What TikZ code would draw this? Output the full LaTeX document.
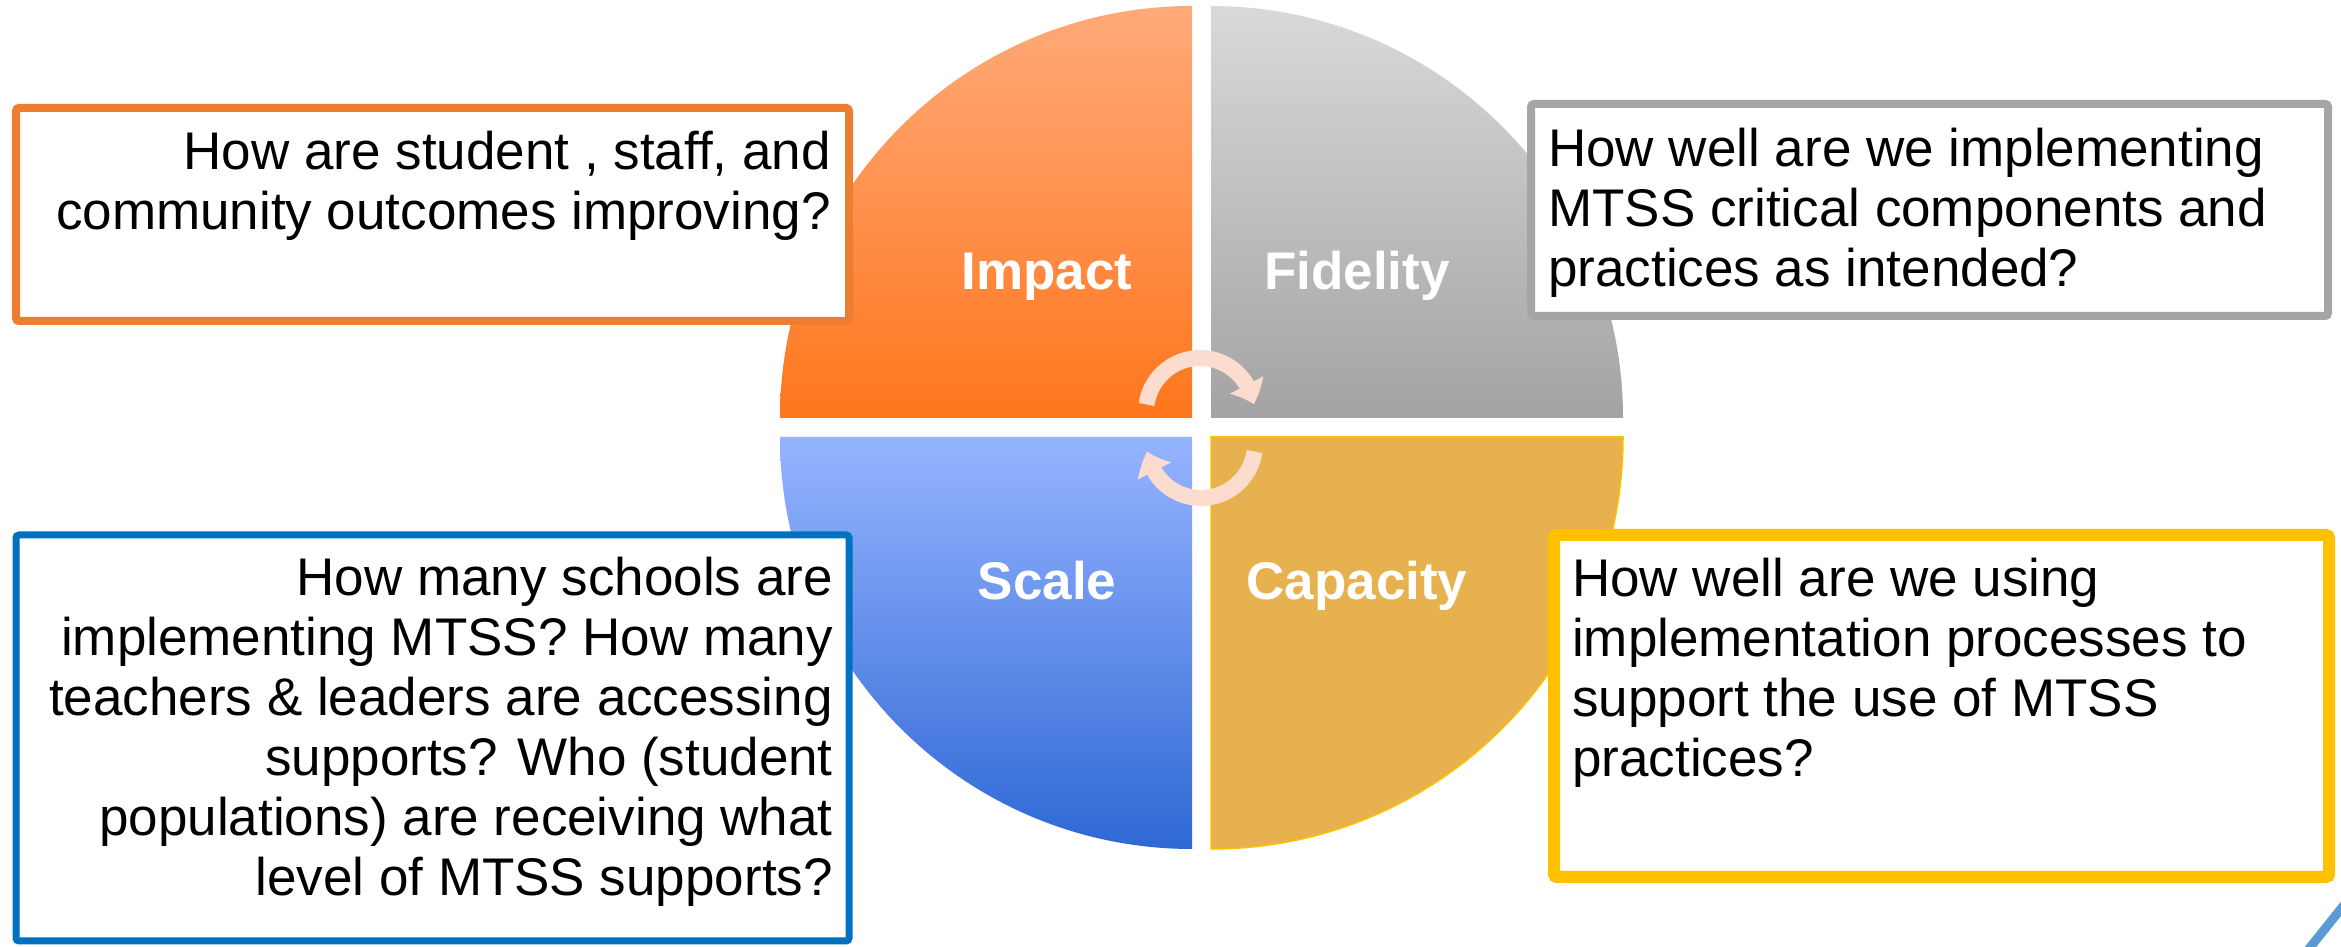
\documentclass[tikz,border=0pt]{standalone}
\usepackage{fontspec}
\setmainfont{Liberation Sans}
\usetikzlibrary{arrows.meta,bending}
\definecolor{boxorange}{HTML}{ED7D31}
\definecolor{boxgray}{HTML}{A5A5A5}
\definecolor{boxblue}{HTML}{0070C0}
\definecolor{boxyellow}{HTML}{FFC000}
\definecolor{impTop}{HTML}{FFAA7A}
\definecolor{impBot}{HTML}{FF761C}
\definecolor{fidTop}{HTML}{D9D9D9}
\definecolor{fidBot}{HTML}{A3A3A3}
\definecolor{scaTop}{HTML}{96B4FF}
\definecolor{scaBot}{HTML}{2E68D4}
\definecolor{capFill}{HTML}{E8B14F}
\definecolor{cyclecol}{HTML}{FCDCCE}
\definecolor{cornerblue}{HTML}{5B9BD5}
\begin{document}
\begin{tikzpicture}[x=1pt,y=1pt,
  qlabel/.style={text=white, font=\fontsize{53}{60}\selectfont\bfseries, inner sep=0pt, anchor=base},
  qbox/.style={fill=white, rounded corners=3pt, inner sep=0pt, outer sep=0pt},
  qtext/.style={font=\fontsize{53}{60}\selectfont, inner sep=0pt, text=black},
  cyclearrow/.style={draw=cyclecol, line width=16pt, -{Triangle[width=36pt,length=21pt,bend]}}
]
\useasboundingbox (0,0) rectangle (2341,947);
\fill[white] (0,0) rectangle (2341,947);

% quadrants
\shade[top color=impTop, bottom color=impBot] (1192,529) -- (1192,941) arc[start angle=90,end angle=180,radius=412] -- cycle;
\shade[top color=fidTop, bottom color=fidBot] (1211,529) -- (1623,529) arc[start angle=0,end angle=90,radius=412] -- cycle;
\shade[top color=scaTop, bottom color=scaBot] (1192,510) -- (780,510) arc[start angle=180,end angle=270,radius=412] -- cycle;
\filldraw[fill=capFill, draw=boxyellow, line width=1.5pt] (1211,510) -- (1211,98) arc[start angle=270,end angle=360,radius=412] -- cycle;

% quadrant labels
\node[qlabel] (impact) at (1047,657) {Impact};
\node[qlabel] (fidelity) at (1357,657) {Fidelity};
\node[qlabel] (scale) at (1047,347) {Scale};
\node[qlabel] (capacity) at (1357,347) {Capacity};

% cycle arrows
\coordinate (cyctop) at (1200,535);
\coordinate (cycbot) at (1201,503);
\draw[cyclearrow] ([shift={(172:54)}]cyctop) arc[start angle=172,end angle=8,radius=54];
\draw[cyclearrow] ([shift={(-8:54)}]cycbot) arc[start angle=-8,end angle=-172,radius=54];

% question boxes
\node[qbox, draw=boxorange, line width=8pt, minimum width=833pt, minimum height=213pt] (obox) at (432.5,732.5) {};
\node[qtext, anchor=north east, align=right] (otext) at (831,815.6) {How are student , staff, and\\community outcomes improving?};

\node[qbox, draw=boxgray, line width=8pt, minimum width=797pt, minimum height=212pt] (gbox) at (1929.5,737) {};
\node[qtext, anchor=north west, align=left] (gtext) at (1548,819) {How well are we implementing\\MTSS critical components and\\practices as intended?};

\node[qbox, draw=boxblue, line width=7pt, minimum width=833pt, minimum height=406pt] (bbox) at (432.5,209) {};
\node[qtext, anchor=north east, align=right] (btext) at (833,390) {How many schools are\\implementing MTSS? How many\\teachers \& leaders are accessing\\supports? Who (student\\populations) are receiving what\\level of MTSS supports?};

\node[qbox, draw=boxyellow, line width=12pt, minimum width=775pt, minimum height=342pt] (ybox) at (1941.5,241) {};
\node[qtext, anchor=north west, align=left] (ytext) at (1572,389) {How well are we using\\implementation processes to\\support the use of MTSS\\practices?};

% corner stripe
\begin{scope}
\clip (0,0) rectangle (2341,947);
\draw[cornerblue, line width=9pt] (2300,-13) -- (2352,52);
\end{scope}
\end{tikzpicture}
\end{document}
